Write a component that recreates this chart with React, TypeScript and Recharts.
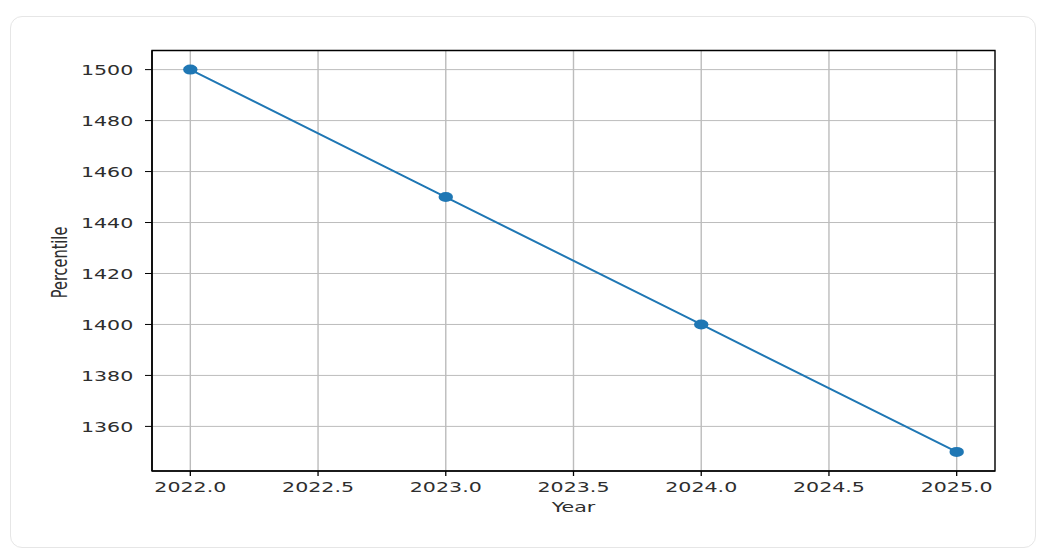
import React from 'react';
import {
  CartesianGrid,
  Label,
  Line,
  LineChart,
  ReferenceArea,
  XAxis,
  YAxis,
} from 'recharts';

const years = [2022, 2023, 2024, 2025];
const percentiles = [1500, 1450, 1400, 1350];
const xTicks = [2022, 2022.5, 2023, 2023.5, 2024, 2024.5, 2025];
const yTicks = [1360, 1380, 1400, 1420, 1440, 1460, 1480, 1500];

const X_DOMAIN: [number, number] = [2021.85, 2025.15];
const Y_DOMAIN: [number, number] = [1342.5, 1507.5];

// the reference is stretched sideways, so text and markers are too
const STRETCH = 1.42;
const FONT = 'DejaVu Sans, sans-serif';
const FONT_SIZE = 14.5;
const TEXT_COLOR = '#2e2e2e';
const LINE_COLOR = '#1f77b4';
const GRID_COLOR = '#bcbcbc';

const Y_AXIS_WIDTH = 60;
const X_AXIS_HEIGHT = 30;

const data = years.map((year, i) => ({ year, value: percentiles[i] }));

function XTick({ x, y, payload }: any) {
  return (
    <g transform={`translate(${x},${y})`}>
      <text
        transform={`scale(${STRETCH},1)`}
        y={14.3}
        textAnchor="middle"
        fontFamily={FONT}
        fontSize={FONT_SIZE}
        fill={TEXT_COLOR}
      >
        {Number(payload.value).toFixed(1)}
      </text>
    </g>
  );
}

function YTick({ x, y, payload }: any) {
  return (
    <g transform={`translate(${x - 9.7},${y})`}>
      <text
        transform={`scale(${STRETCH},1)`}
        dy="0.36em"
        textAnchor="end"
        fontFamily={FONT}
        fontSize={FONT_SIZE}
        fill={TEXT_COLOR}
      >
        {payload.value}
      </text>
    </g>
  );
}

function Dot({ cx, cy }: any) {
  if (cx == null || cy == null) return null;
  return <ellipse cx={cx} cy={cy} rx={7.2} ry={5} fill={LINE_COLOR} />;
}

function XLabel({ viewBox }: any) {
  const { x, y, width } = viewBox;
  return (
    <g transform={`translate(${x + width / 2},${y + 40.5})`}>
      <text
        transform={`scale(${STRETCH},1)`}
        textAnchor="middle"
        fontFamily={FONT}
        fontSize={FONT_SIZE}
        fill={TEXT_COLOR}
      >
        Year
      </text>
    </g>
  );
}

function YLabel({ viewBox }: any) {
  const { x, y, width, height } = viewBox;
  return (
    <g transform={`translate(${x + width - 85.5},${y + height / 2 + 1.7})`}>
      <text
        transform={`scale(${STRETCH},1) rotate(-90)`}
        textAnchor="middle"
        fontFamily={FONT}
        fontSize={FONT_SIZE}
        fill={TEXT_COLOR}
      >
        Percentile
      </text>
    </g>
  );
}

export default function App() {
  return (
    <div
      style={{
        position: 'absolute',
        left: 0,
        top: 0,
        width: 1038,
        height: 555,
        background: '#fff',
      }}
    >
      <div
        style={{
          position: 'absolute',
          left: 10,
          top: 16,
          width: 1024,
          height: 530,
          border: '1px solid #e6e6e6',
          borderRadius: 12,
        }}
      />
      <LineChart
        width={1038}
        height={555}
        data={data}
        margin={{
          top: 50.5,
          right: 43,
          bottom: 84 - X_AXIS_HEIGHT,
          left: 152 - Y_AXIS_WIDTH,
        }}
        style={{ position: 'absolute', left: 0, top: 0 }}
      >
        <CartesianGrid
          horizontal
          vertical={false}
          stroke={GRID_COLOR}
          strokeWidth={1}
        />
        <CartesianGrid
          horizontal={false}
          vertical
          stroke={GRID_COLOR}
          strokeWidth={1.4}
        />
        <XAxis
          dataKey="year"
          type="number"
          domain={X_DOMAIN}
          ticks={xTicks}
          allowDataOverflow
          height={X_AXIS_HEIGHT}
          tickSize={5}
          tick={<XTick />}
          axisLine={{ stroke: '#000', strokeWidth: 1.2 }}
          tickLine={{ stroke: '#000', strokeWidth: 1.3 }}
        >
          <Label content={<XLabel />} />
        </XAxis>
        <YAxis
          type="number"
          domain={Y_DOMAIN}
          ticks={yTicks}
          allowDataOverflow
          width={Y_AXIS_WIDTH}
          tickSize={7}
          tick={<YTick />}
          axisLine={{ stroke: '#000', strokeWidth: 1.5 }}
          tickLine={{ stroke: '#000', strokeWidth: 1 }}
        >
          <Label content={<YLabel />} />
        </YAxis>
        {/* plot frame (matplotlib spines) */}
        <ReferenceArea
          x1={X_DOMAIN[0]}
          x2={X_DOMAIN[1]}
          y1={Y_DOMAIN[0]}
          y2={Y_DOMAIN[1]}
          fill="none"
          stroke="#000"
          strokeWidth={1.3}
          ifOverflow="visible"
        />
        <Line
          dataKey="value"
          stroke={LINE_COLOR}
          strokeWidth={2}
          dot={<Dot />}
          activeDot={false}
          isAnimationActive={false}
        />
      </LineChart>
    </div>
  );
}
